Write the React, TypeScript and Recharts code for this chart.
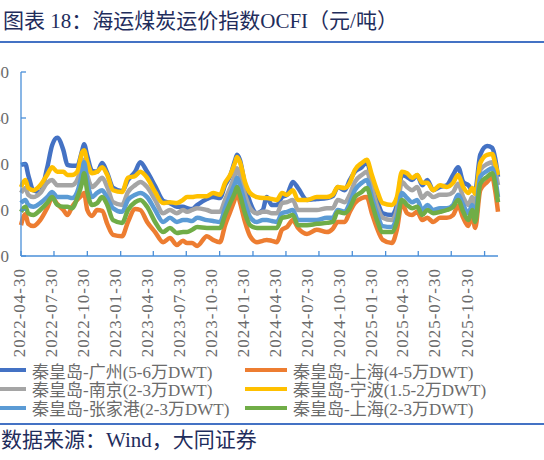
import { LineChart, Line, XAxis, YAxis, Legend } from "recharts";

// sample dates (irregular)
const dates = [
  "2022-04-30", "2022-05-12", "2022-05-20", "2022-06-03", "2022-06-22", "2022-07-11", "2022-07-25", "2022-08-08",
  "2022-08-25", "2022-09-05", "2022-09-18", "2022-10-02", "2022-10-16", "2022-10-21", "2022-10-30", "2022-11-12",
  "2022-11-26", "2022-12-10", "2022-12-24", "2023-01-09", "2023-02-03", "2023-02-19", "2023-03-11", "2023-03-25",
  "2023-04-13", "2023-05-05", "2023-05-27", "2023-06-15", "2023-07-04", "2023-07-21",
  "2023-08-01", "2023-08-15", "2023-08-29", "2023-09-25", "2023-10-12", "2023-10-31", "2023-11-14", "2023-11-28",
  "2023-12-12", "2023-12-17", "2023-12-25", "2024-01-08", "2024-01-22", "2024-02-10", "2024-02-26", "2024-03-08",
  "2024-03-22", "2024-04-05", "2024-04-19", "2024-05-03", "2024-05-19", "2024-06-02", "2024-06-27", "2024-07-24",
  "2024-08-21", "2024-09-06", "2024-09-20", "2024-10-09",
  "2024-10-23", "2024-11-06", "2024-11-25", "2024-12-09", "2024-12-23", "2025-01-06", "2025-01-22", "2025-02-16",
  "2025-03-02", "2025-03-16", "2025-03-30", "2025-04-13", "2025-04-27", "2025-05-11", "2025-05-25", "2025-06-10",
  "2025-06-29", "2025-07-18", "2025-08-04", "2025-08-18", "2025-09-01", "2025-09-15", "2025-09-26", "2025-10-04",
  "2025-10-18", "2025-11-06", "2025-11-20", "2025-11-28", "2025-12-06",
];

const guangzhou = [
  29.8, 30.0, 27.6, 24.3, 23.9, 29.1, 34.1, 35.7, 33.0, 29.8, 29.6, 29.6, 33.0, 34.3, 31.7, 28.5, 28.3, 30.2, 28.0, 24.8,
  24.1, 26.5, 28.3, 30.4, 28.3, 25.2, 22.0, 21.5, 20.7, 20.7,
  20.4, 20.2, 21.1, 22.4, 22.8, 22.6, 25.4, 27.4, 30.9, 32.0, 30.9, 25.4, 21.7, 19.3, 20.0, 22.8, 21.1, 21.1, 22.8, 23.3,
  26.1, 24.8, 22.2, 22.4, 22.6, 23.0, 25.0, 24.3,
  26.5, 28.3, 29.3, 30.4, 26.5, 22.2, 19.3, 18.9, 21.1, 27.6, 27.2, 26.5, 27.6, 25.4, 26.5, 24.3, 25.0, 25.4, 27.6, 29.3,
  26.1, 25.4, 24.3, 24.3, 32.0, 33.9, 33.5, 31.3, 27.2,
];

const shanghai45 = [
  16.7, 19.1, 17.0, 16.5, 17.8, 20.4, 22.6, 21.3, 20.0, 18.9, 20.7, 22.2, 23.3, 23.7, 20.0, 18.7, 20.0, 19.8, 17.0, 14.6,
  14.3, 17.4, 20.2, 20.0, 17.4, 15.2, 13.0, 13.9, 12.4, 13.3,
  12.8, 12.8, 12.2, 14.3, 13.5, 13.0, 16.7, 19.6, 22.6, 23.9, 21.7, 17.4, 14.3, 13.0, 13.3, 13.5, 13.3, 13.0, 15.7, 16.3,
  17.8, 16.1, 14.8, 15.7, 15.2, 15.9, 17.4, 17.4,
  19.6, 21.5, 22.6, 22.8, 19.3, 16.1, 13.5, 12.8, 15.7, 21.5, 19.3, 18.9, 19.6, 17.8, 18.3, 17.4, 18.3, 18.3, 18.9, 20.9,
  18.3, 16.5, 18.9, 16.1, 24.3, 26.1, 27.2, 24.3, 19.6,
];

const nanjing = [
  23.7, 24.8, 23.3, 22.8, 23.7, 25.9, 26.5, 25.4, 25.4, 25.4, 25.4, 26.5, 29.8, 30.9, 27.6, 25.0, 25.9, 27.0, 25.0, 21.7,
  21.1, 23.9, 25.4, 26.1, 25.0, 22.2, 19.3, 20.0, 19.3, 20.0,
  19.6, 20.0, 20.4, 20.0, 19.6, 19.6, 22.2, 24.8, 27.8, 29.1, 27.4, 23.3, 20.4, 19.3, 19.6, 19.6, 19.3, 19.3, 21.5, 21.7,
  22.2, 20.0, 20.0, 20.0, 20.4, 20.4, 22.2, 21.7,
  23.3, 26.1, 27.6, 28.3, 24.8, 20.9, 18.3, 17.8, 20.0, 26.1, 25.0, 24.3, 25.0, 22.6, 23.7, 22.8, 23.3, 23.3, 23.9, 25.7,
  22.8, 21.1, 22.8, 20.9, 28.7, 30.0, 30.4, 28.7, 25.4,
];

const ningbo = [
  25.0, 26.5, 24.8, 24.3, 25.4, 27.6, 29.3, 28.3, 28.3, 27.6, 27.6, 28.3, 32.6, 33.0, 30.4, 28.0, 28.3, 29.3, 27.6, 24.3,
  23.9, 27.0, 27.4, 28.3, 27.0, 23.9, 21.5, 21.7, 21.5, 22.2,
  22.8, 22.8, 23.0, 23.0, 23.7, 23.3, 25.9, 27.6, 30.4, 31.5, 30.4, 26.1, 23.7, 22.8, 22.6, 22.6, 22.4, 22.2, 23.7, 23.3,
  24.3, 22.2, 22.2, 22.8, 22.8, 23.3, 25.0, 24.8,
  25.9, 28.7, 30.2, 30.9, 27.6, 24.3, 21.5, 21.1, 22.8, 28.3, 28.0, 27.0, 27.6, 25.9, 25.9, 24.3, 25.4, 25.0, 25.9, 27.6,
  25.0, 23.7, 24.8, 23.5, 30.2, 32.0, 32.2, 30.2, 27.6,
];

const zhangjiagang = [
  21.5, 22.2, 21.1, 20.7, 21.5, 22.8, 23.9, 22.8, 22.8, 22.8, 22.6, 23.9, 28.3, 30.4, 26.1, 22.8, 23.7, 24.3, 22.6, 20.4,
  19.6, 22.2, 23.3, 23.7, 22.8, 20.0, 17.4, 18.3, 17.4, 17.8,
  17.8, 17.6, 18.3, 17.8, 17.6, 17.4, 20.4, 23.3, 25.9, 27.0, 25.4, 21.5, 18.5, 17.4, 17.8, 17.8, 17.6, 17.4, 19.3, 19.6,
  20.0, 17.8, 17.8, 17.8, 18.3, 18.3, 20.0, 19.6,
  21.5, 24.3, 25.9, 26.5, 22.8, 19.3, 16.5, 16.3, 18.5, 23.7, 22.6, 21.7, 22.2, 20.0, 21.1, 20.0, 20.4, 20.4, 21.1, 23.3,
  21.1, 19.3, 21.1, 18.9, 27.2, 28.5, 29.1, 27.0, 22.8,
];

const shanghai23 = [
  19.6, 20.7, 19.3, 18.9, 20.0, 21.5, 22.8, 21.1, 20.7, 20.7, 20.4, 22.6, 26.1, 28.0, 23.9, 21.1, 21.5, 22.8, 21.1, 17.8,
  17.2, 20.0, 21.7, 22.2, 20.7, 17.4, 15.2, 16.1, 15.0, 15.2,
  15.2, 15.7, 16.3, 16.1, 16.1, 16.1, 18.9, 21.5, 23.9, 25.0, 23.3, 19.3, 16.7, 16.1, 16.1, 16.1, 16.1, 16.1, 18.3, 18.5,
  18.9, 16.7, 16.7, 17.0, 17.2, 17.4, 19.6, 19.3,
  20.4, 22.8, 23.9, 24.8, 21.5, 17.8, 15.2, 15.2, 17.4, 22.2, 21.1, 20.4, 20.7, 18.9, 20.0, 19.3, 19.6, 20.0, 20.7, 22.2,
  19.6, 17.8, 20.0, 17.4, 25.7, 27.2, 28.0, 25.9, 21.7,
];

const tickLabels = [
  "2022-04-30", "2022-07-30", "2022-10-30", "2023-01-30", "2023-04-30", "2023-07-30", "2023-10-30", "2024-01-30",
  "2024-04-30", "2024-07-30", "2024-10-30", "2025-01-30", "2025-04-30", "2025-07-30", "2025-10-30",
];

const yTicks = [10, 20, 30, 40, 50];

const SERIES = [
  { key: "gz", name: "秦皇岛-广州(5-6万DWT)", color: "#4472C4", values: guangzhou },
  { key: "sh45", name: "秦皇岛-上海(4-5万DWT)", color: "#ED7D31", values: shanghai45 },
  { key: "nj", name: "秦皇岛-南京(2-3万DWT)", color: "#A5A5A5", values: nanjing },
  { key: "nb", name: "秦皇岛-宁波(1.5-2万DWT)", color: "#FFC000", values: ningbo },
  { key: "zjg", name: "秦皇岛-张家港(2-3万DWT)", color: "#5B9BD5", values: zhangjiagang },
  { key: "sh23", name: "秦皇岛-上海(2-3万DWT)", color: "#70AD47", values: shanghai23 },
];

const data = dates.map((d, i) => {
  const row: Record<string, number> = { t: Date.parse(d) };
  SERIES.forEach((s) => {
    row[s.key] = s.values[i];
  });
  return row;
});

const SERIF = '"Liberation Serif", "Noto Sans CJK SC", serif';
const NAVY = "#1F2D5C";
const RULE = "#4472C4";
const AXIS = "#4A8FD8";
const TICK_TEXT = "#6B6B6B";

const PLOT_LEFT = 41;
const X_GAP = 12;
const Y_GAP = 12;
// labels in the source sit slightly tighter than the tick marks
const LABEL_X0 = 39;
const LABEL_SPREAD = 0.9655;

function XTick(props: any) {
  const { x, y, index } = props;
  const axisY = y - X_GAP;
  const lx = LABEL_X0 + (x - PLOT_LEFT) * LABEL_SPREAD;
  return (
    <g>
      <line x1={x} y1={axisY} x2={x} y2={axisY - 5} stroke={AXIS} strokeWidth={1.3} />
      <text
        x={lx}
        y={y}
        transform={`rotate(-90 ${lx} ${y})`}
        textAnchor="end"
        dy="0.35em"
        fill={TICK_TEXT}
        fontSize={17}
        letterSpacing={1}
        fontFamily={SERIF}
      >
        {tickLabels[index]}
      </text>
    </g>
  );
}

function YTick(props: any) {
  const { x, y, payload } = props;
  return (
    <g>
      <line x1={x + Y_GAP} y1={y} x2={x + Y_GAP + 5} y2={y} stroke={AXIS} strokeWidth={1.3} />
      <text x={x} y={y} dy="0.35em" textAnchor="end" fill={TICK_TEXT} fontSize={17} fontFamily={SERIF}>
        {payload.value}
      </text>
    </g>
  );
}

// legend keeps the series order (two columns, row by row)
function LegendBox() {
  return (
    <div
      style={{
        display: "grid",
        gridTemplateColumns: "261px 257px",
        paddingLeft: 4,
        height: 56,
        fontFamily: SERIF,
        fontSize: 17,
        color: TICK_TEXT,
      }}
    >
      {SERIES.map((s) => (
        <div key={s.key} style={{ display: "flex", alignItems: "center", height: 18.5, whiteSpace: "nowrap" }}>
          <span style={{ display: "inline-block", width: 42, height: 4, background: s.color, marginRight: 6 }} />
          <span>{s.name}</span>
        </div>
      ))}
    </div>
  );
}

export default function App() {
  return (
    <div
      style={{
        position: "absolute",
        left: 0,
        top: 0,
        width: 544,
        height: 460,
        overflow: "hidden",
        background: "#fff",
      }}
    >
      <div
        style={{
          position: "absolute",
          left: 3,
          top: 8,
          fontSize: 21,
          lineHeight: "26px",
          color: NAVY,
          fontFamily: SERIF,
          whiteSpace: "nowrap",
        }}
      >
        图表 18：海运煤炭运价指数OCFI（元/吨）
      </div>
      <div style={{ position: "absolute", left: 0, top: 41, width: 544, height: 2, background: RULE }} />

      <div style={{ position: "absolute", left: -20, top: 50 }}>
        <LineChart width={564} height={367} data={data} margin={{ top: 22, right: 46, left: 0, bottom: 0 }}>
          <XAxis
            dataKey="t"
            type="number"
            domain={["dataMin", "dataMax"]}
            ticks={tickLabels.map((d) => Date.parse(d))}
            interval={0}
            height={105}
            tickSize={0}
            tickMargin={X_GAP}
            tickLine={false}
            axisLine={{ stroke: AXIS, strokeWidth: 1.3 }}
            tick={(p: any) => <XTick {...p} />}
          />
          <YAxis
            width={41}
            domain={[10, 50]}
            ticks={yTicks}
            interval={0}
            tickSize={0}
            tickMargin={Y_GAP}
            tickLine={false}
            axisLine={{ stroke: AXIS, strokeWidth: 1.3 }}
            tick={(p: any) => <YTick {...p} />}
          />
          {SERIES.map((s) => (
            <Line
              key={s.key}
              dataKey={s.key}
              name={s.name}
              type="monotone"
              stroke={s.color}
              strokeWidth={4.5}
              strokeLinejoin="round"
              dot={false}
              activeDot={false}
              isAnimationActive={false}
            />
          ))}
          <Legend verticalAlign="bottom" align="left" content={() => <LegendBox />} />
        </LineChart>
      </div>

      <div style={{ position: "absolute", left: 0, top: 423, width: 544, height: 2, background: RULE }} />
      <div
        style={{
          position: "absolute",
          left: 1,
          top: 427,
          fontSize: 21,
          lineHeight: "26px",
          color: NAVY,
          fontFamily: SERIF,
          whiteSpace: "nowrap",
        }}
      >
        数据来源：Wind，大同证券
      </div>
    </div>
  );
}
